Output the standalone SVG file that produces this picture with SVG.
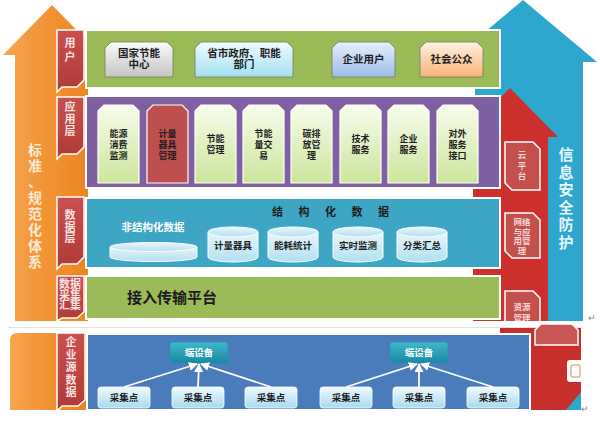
<svg xmlns="http://www.w3.org/2000/svg" width="600" height="422" viewBox="0 0 600 422">
<defs>
<linearGradient id="gOr" x1="0" y1="0" x2="1" y2="0"><stop offset="0" stop-color="#f6a54d"/><stop offset="1" stop-color="#ec7f1a"/></linearGradient>
<linearGradient id="gGray" x1="0" y1="0" x2="0" y2="1"><stop offset="0" stop-color="#fbfbfb"/><stop offset="1" stop-color="#c4c4c4"/></linearGradient>
<linearGradient id="gCyan" x1="0" y1="0" x2="0" y2="1"><stop offset="0" stop-color="#f0fbff"/><stop offset="1" stop-color="#a4dff2"/></linearGradient>
<linearGradient id="gBlue" x1="0" y1="0" x2="0" y2="1"><stop offset="0" stop-color="#e6effb"/><stop offset="1" stop-color="#9bbde8"/></linearGradient>
<linearGradient id="gPeach" x1="0" y1="0" x2="0" y2="1"><stop offset="0" stop-color="#fff1e2"/><stop offset="1" stop-color="#f7b277"/></linearGradient>
<linearGradient id="gLg" x1="0" y1="0" x2="0" y2="1"><stop offset="0" stop-color="#f8fcec"/><stop offset="1" stop-color="#cce69a"/></linearGradient>
<linearGradient id="gRed" x1="0" y1="0" x2="0" y2="1"><stop offset="0" stop-color="#c9504c"/><stop offset="1" stop-color="#b03a37"/></linearGradient>
<linearGradient id="gCyl" x1="0" y1="0" x2="0" y2="1"><stop offset="0" stop-color="#e8f7fc"/><stop offset="1" stop-color="#b2e0f0"/></linearGradient>
<linearGradient id="gTeal" x1="0" y1="0" x2="0" y2="1"><stop offset="0" stop-color="#40b8cc"/><stop offset="1" stop-color="#1888a2"/></linearGradient>
<linearGradient id="gPt" x1="0" y1="0" x2="0" y2="1"><stop offset="0" stop-color="#f0fbff"/><stop offset="1" stop-color="#a6daf0"/></linearGradient>
<marker id="ah" viewBox="0 0 10 10" refX="9" refY="5" markerWidth="5" markerHeight="5" orient="auto"><path d="M0,0 L10,5 L0,10 Z" fill="#ffffff"/></marker>
</defs>
<style>
text{font-family:"Liberation Sans","Noto Sans CJK SC",sans-serif;}
.panel{stroke:#ffffff;stroke-width:2;}
.tab{fill:url(#gRed);stroke:#ffffff;stroke-width:1.5;}
.tabt{fill:#f8e2e1;font-size:11px;text-anchor:middle;font-weight:bold;}
.rt{fill:#c4504c;stroke:#ffffff;stroke-width:1.5;}
.rtt{fill:#f6d6d4;font-size:8.5px;text-anchor:middle;font-weight:bold;}
.ub{stroke:#6e7f5a;stroke-width:0.8;}
.ut{fill:#222222;font-size:10.5px;text-anchor:middle;font-weight:bold;}
.ab{fill:url(#gLg);stroke:#ffffff;stroke-width:1.2;}
.at{fill:#1e1e1e;font-size:9px;text-anchor:middle;font-weight:bold;}
.cyl{fill:url(#gCyl);stroke:#ffffff;stroke-width:1;}
.ct{fill:#1e1e1e;font-size:9.5px;text-anchor:middle;font-weight:bold;}
.dev{fill:url(#gTeal);stroke:#2a8fa6;stroke-width:0.6;}
.devt{fill:#ffffff;font-size:9.5px;text-anchor:middle;font-weight:bold;}
.pt{fill:url(#gPt);stroke:#ffffff;stroke-width:0.8;}
.ptt{fill:#1e1e1e;font-size:9.5px;text-anchor:middle;font-weight:bold;}
.con{stroke:#ffffff;stroke-width:1.8;fill:none;marker-end:url(#ah);}
</style>
<rect x="0" y="0" width="600" height="422" fill="#ffffff"/>

<g id="arrow-standard">
<polygon points="52,5 101,55 88,55 88,322 15,322 15,55 3,55" fill="url(#gOr)"/>
<text x="35" y="155" fill="#fde9d2" font-size="14" text-anchor="middle" font-weight="bold"><tspan x="35">标</tspan><tspan x="35" dy="16">准</tspan><tspan x="35" dy="16">、</tspan><tspan x="35" dy="16">规</tspan><tspan x="35" dy="16">范</tspan><tspan x="35" dy="16">化</tspan><tspan x="35" dy="16">体</tspan><tspan x="35" dy="16">系</tspan></text>
</g>

<g id="arrow-security">
<polygon points="523,0 597,62 583,62 583,322 475,322 475,62 449,62" fill="#2ea7cf"/>
<text x="566" y="160" fill="#e6f6fb" font-size="15" text-anchor="middle" font-weight="bold"><tspan x="566">信</tspan><tspan x="566" dy="17.5">息</tspan><tspan x="566" dy="17.5">安</tspan><tspan x="566" dy="17.5">全</tspan><tspan x="566" dy="17.5">防</tspan><tspan x="566" dy="17.5">护</tspan></text>
</g>

<g id="arrow-cloud">
<polygon points="510,88 558,137 548,137 548,322 473,322 473,137 462,137" fill="#cc2f2c"/>
</g>

<g id="tab-cloud">
<path class="rt" d="M505,142 H533 L540,149 V190 H512 L505,183 Z"/>
<text class="rtt" x="522" y="158"><tspan x="522">云</tspan><tspan x="522" dy="10.5">平</tspan><tspan x="522" dy="10.5">台</tspan></text>
</g>
<g id="tab-network">
<path class="rt" d="M505,213 H533 L540,220 V258 H512 L505,251 Z"/>
<text class="rtt" x="522" y="225" font-size="7.5"><tspan x="522">网络</tspan><tspan x="522" dy="9.5">与应</tspan><tspan x="522" dy="9.5">用管</tspan><tspan x="522" dy="9.5">理</tspan></text>
</g>
<g id="tab-resource">
<path class="rt" d="M505,291 H533 L540,298 V330 H505 Z"/>
<text class="rtt" x="522" y="310"><tspan x="522">资源</tspan><tspan x="522" dy="10.5">管理</tspan></text>
</g>

<g id="layer-user">
<rect class="panel" x="86" y="30" width="414" height="58" fill="#9bbb59"/>
<path class="tab" d="M57,30 H84 V80 L77,87 H62 L57,92 Z"/>
<text class="tabt" x="70" y="47" font-size="12"><tspan x="70">用</tspan><tspan x="70" dy="14">户</tspan></text>
</g>
<g id="node-ncenter">
<path class="ub" d="M105,48 L111,42 H167 L173,48 V77 H105 Z" fill="url(#gGray)"/>
<text class="ut" x="139" y="57"><tspan x="139">国家节能</tspan><tspan x="139" dy="11">中心</tspan></text>
</g>
<g id="node-gov">
<path class="ub" d="M195,48 L201,42 H287 L293,48 V77 H195 Z" fill="url(#gCyan)"/>
<text class="ut" x="244" y="57"><tspan x="244">省市政府、职能</tspan><tspan x="244" dy="11">部门</tspan></text>
</g>
<g id="node-enterprise">
<path class="ub" d="M332,48 L338,42 H389 L395,48 V77 H332 Z" fill="url(#gBlue)"/>
<text class="ut" x="363.5" y="63">企业用户</text>
</g>
<g id="node-public">
<path class="ub" d="M420,48 L426,42 H477 L483,48 V77 H420 Z" fill="url(#gPeach)"/>
<text class="ut" x="451.5" y="63">社会公众</text>
</g>

<g id="layer-app">
<rect class="panel" x="86" y="96" width="414" height="92" fill="#7f60a1"/>
<path class="tab" d="M57,97 H84 V147 L77,154 H62 L57,159 Z"/>
<text class="tabt" x="70" y="111" font-size="10"><tspan x="70">应</tspan><tspan x="70" dy="12">用</tspan><tspan x="70" dy="12">层</tspan></text>
</g>
<g id="app-1"><path class="ab" d="M98,111 L104,105 H133 L139,111 V183 H98 Z"/><text class="at" x="118.5" y="137"><tspan x="118.5">能源</tspan><tspan x="118.5" dy="11">消费</tspan><tspan x="118.5" dy="11">监测</tspan></text></g>
<g id="app-2"><path d="M147,111 L153,105 H182 L188,111 V183 H147 Z" fill="#c0504d" stroke="#ffffff" stroke-width="1.2"/><text class="at" x="167.5" y="137" fill="#f6dcdb"><tspan x="167.5">计量</tspan><tspan x="167.5" dy="11">器具</tspan><tspan x="167.5" dy="11">管理</tspan></text></g>
<g id="app-3"><path class="ab" d="M195,111 L201,105 H230 L236,111 V183 H195 Z"/><text class="at" x="215.5" y="142"><tspan x="215.5">节能</tspan><tspan x="215.5" dy="11">管理</tspan></text></g>
<g id="app-4"><path class="ab" d="M243,111 L249,105 H278 L284,111 V183 H243 Z"/><text class="at" x="263.5" y="137"><tspan x="263.5">节能</tspan><tspan x="263.5" dy="11">量交</tspan><tspan x="263.5" dy="11">易</tspan></text></g>
<g id="app-5"><path class="ab" d="M291,111 L297,105 H326 L332,111 V183 H291 Z"/><text class="at" x="311.5" y="137"><tspan x="311.5">碳排</tspan><tspan x="311.5" dy="11">放管</tspan><tspan x="311.5" dy="11">理</tspan></text></g>
<g id="app-6"><path class="ab" d="M340,111 L346,105 H375 L381,111 V183 H340 Z"/><text class="at" x="360.5" y="142"><tspan x="360.5">技术</tspan><tspan x="360.5" dy="11">服务</tspan></text></g>
<g id="app-7"><path class="ab" d="M388,111 L394,105 H423 L429,111 V183 H388 Z"/><text class="at" x="408.5" y="142"><tspan x="408.5">企业</tspan><tspan x="408.5" dy="11">服务</tspan></text></g>
<g id="app-8"><path class="ab" d="M437,111 L443,105 H472 L478,111 V183 H437 Z"/><text class="at" x="457.5" y="137"><tspan x="457.5">对外</tspan><tspan x="457.5" dy="11">服务</tspan><tspan x="457.5" dy="11">接口</tspan></text></g>

<g id="layer-data">
<rect class="panel" x="86" y="198" width="414" height="70" fill="#3ea6c5"/>
<path class="tab" d="M57,197 H84 V257 L77,264 H62 L57,269 Z"/>
<text class="tabt" x="70" y="219" font-size="9.5"><tspan x="70">数</tspan><tspan x="70" dy="11.5">据</tspan><tspan x="70" dy="11.5">层</tspan></text>
<text x="153" y="231" fill="#ffffff" font-size="10.5" font-weight="bold" text-anchor="middle">非结构化数据</text>
<text x="272" y="216" fill="#1e1e1e" font-size="11" font-weight="bold" letter-spacing="15.5">结构化数据</text>
</g>
<g id="cyl-unstructured">
<path class="cyl" d="M110,247 V257 A43.5,4.5 0 0 0 197,257 V247 Z"/>
<ellipse class="cyl" cx="153.5" cy="247" rx="43.5" ry="4.5"/>
</g>
<g id="cyl-meter"><path class="cyl" d="M208,232 V257 A25,5 0 0 0 258,257 V232 Z"/><ellipse class="cyl" cx="233" cy="232" rx="25" ry="5"/><text class="ct" x="233" y="249">计量器具</text></g>
<g id="cyl-energy"><path class="cyl" d="M268,232 V257 A25,5 0 0 0 318,257 V232 Z"/><ellipse class="cyl" cx="293" cy="232" rx="25" ry="5"/><text class="ct" x="293" y="249">能耗统计</text></g>
<g id="cyl-realtime"><path class="cyl" d="M333,232 V257 A25,5 0 0 0 383,257 V232 Z"/><ellipse class="cyl" cx="358" cy="232" rx="25" ry="5"/><text class="ct" x="358" y="249">实时监测</text></g>
<g id="cyl-summary"><path class="cyl" d="M397,232 V257 A25,5 0 0 0 447,257 V232 Z"/><ellipse class="cyl" cx="422" cy="232" rx="25" ry="5"/><text class="ct" x="422" y="249">分类汇总</text></g>

<g id="layer-access">
<rect class="panel" x="86" y="276" width="414" height="43" fill="#9bbb59"/>
<path class="tab" d="M57,276 H84 V312 L77,318 H62 L57,321 Z"/>
<text class="tabt" x="70" y="288" font-size="8.5"><tspan x="70">数据</tspan><tspan x="70" dy="10.5">采集</tspan><tspan x="70" dy="10.5">汇集</tspan></text>
<text x="127" y="303" fill="#1a1a1a" font-size="15" font-weight="bold">接入传输平台</text>
</g>

<rect x="0" y="321" width="600" height="6" fill="#ffffff"/>
<line x1="8" y1="327.5" x2="582" y2="327.5" stroke="#e2e2e2" stroke-width="1"/>
<text x="588" y="321" fill="#888888" font-size="9">↵</text>

<g id="bottom-sides">
<path d="M10,410 V340 Q10,333 18,333 H90 V410 Z" fill="url(#gOr)"/>
<rect x="500" y="328" width="81" height="82" fill="#c62f2c"/>
<path d="M535,330 L541,324 H572 L578,330 V345 H535 Z" fill="#c85652" stroke="#ffffff" stroke-width="1.5"/>
<rect x="567" y="360" width="16" height="22" rx="3" fill="#ffffff"/>
<rect x="571" y="365" width="9" height="12" rx="1.5" fill="none" stroke="#f2a98a" stroke-width="1.5"/>
<polygon points="566,410 581,392 581,410" fill="#2ea7cf"/>
<text x="581" y="412" fill="#888888" font-size="9">↵</text>
</g>

<g id="layer-source">
<rect class="panel" x="87" y="334" width="443" height="76" fill="#4a7cbb"/>
<path class="tab" d="M57,333 H85 V400 L78,406 H62 L57,411 Z"/>
<text class="tabt" x="71" y="346" font-size="10.5"><tspan x="71">企</tspan><tspan x="71" dy="12.5">业</tspan><tspan x="71" dy="12.5">源</tspan><tspan x="71" dy="12.5">数</tspan><tspan x="71" dy="12.5">据</tspan></text>
</g>
<g id="dev-1"><rect class="dev" x="170" y="342" width="58" height="21" rx="3"/><text class="devt" x="199" y="356">端设备</text></g>
<g id="dev-2"><rect class="dev" x="390" y="342" width="58" height="21" rx="3"/><text class="devt" x="419" y="356">端设备</text></g>
<g id="pt-1"><rect class="pt" x="98" y="387" width="52" height="21" rx="3"/><text class="ptt" x="124" y="401">采集点</text></g>
<g id="pt-2"><rect class="pt" x="172" y="387" width="52" height="21" rx="3"/><text class="ptt" x="198" y="401">采集点</text></g>
<g id="pt-3"><rect class="pt" x="245" y="387" width="52" height="21" rx="3"/><text class="ptt" x="271" y="401">采集点</text></g>
<g id="pt-4"><rect class="pt" x="320" y="387" width="52" height="21" rx="3"/><text class="ptt" x="346" y="401">采集点</text></g>
<g id="pt-5"><rect class="pt" x="393" y="387" width="52" height="21" rx="3"/><text class="ptt" x="419" y="401">采集点</text></g>
<g id="pt-6"><rect class="pt" x="467" y="387" width="52" height="21" rx="3"/><text class="ptt" x="493" y="401">采集点</text></g>

<g id="connectors">
<line class="con" x1="124" y1="387" x2="197" y2="364"/>
<line class="con" x1="198" y1="387" x2="199" y2="364"/>
<line class="con" x1="271" y1="387" x2="201" y2="364"/>
<line class="con" x1="346" y1="387" x2="417" y2="364"/>
<line class="con" x1="419" y1="387" x2="419" y2="364"/>
<line class="con" x1="493" y1="387" x2="421" y2="364"/>
</g>
</svg>
